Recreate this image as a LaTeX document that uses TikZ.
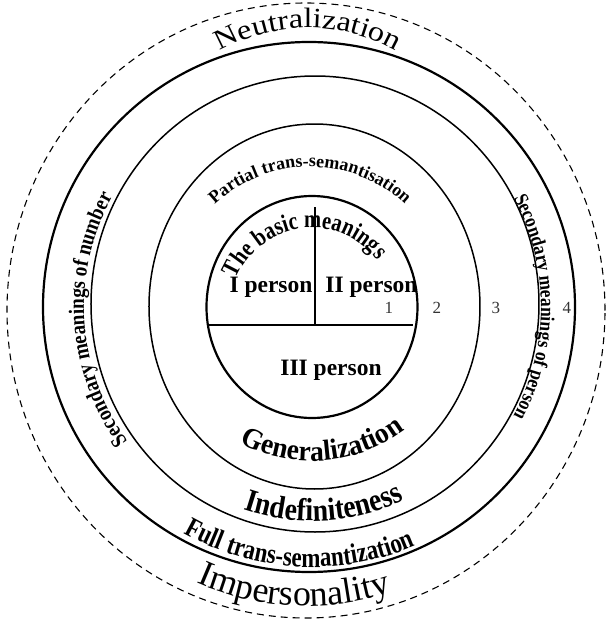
\documentclass[tikz,border=0pt]{standalone}
\usepackage{fontspec}
\setmainfont{Liberation Serif}
% stretched and condensed cuts for the curved labels
\newfontfamily\wideface[FakeStretch=1.15]{Liberation Serif}
\newfontfamily\condA[FakeStretch=0.95]{Liberation Serif}
\newfontfamily\condB[FakeStretch=0.87]{Liberation Serif}
\newfontfamily\condC[FakeStretch=0.82]{Liberation Serif}
\usetikzlibrary{decorations.text}

% fonts of the curved labels
\newcommand\fNeutral{\fontsize{28pt}{28pt}\selectfont\wideface}
\newcommand\fPartial{\fontsize{18pt}{18pt}\selectfont\bfseries}
\newcommand\fBasic{\fontsize{25pt}{25pt}\selectfont\condC\bfseries}
\newcommand\fNumber{\fontsize{22pt}{22pt}\selectfont\condB\bfseries}
\newcommand\fPerson{\fontsize{20pt}{20pt}\selectfont\condB\bfseries}
\newcommand\fGeneral{\fontsize{29pt}{29pt}\selectfont\condA\bfseries}
\newcommand\fIndef{\fontsize{32pt}{32pt}\selectfont\condB\bfseries}
\newcommand\fFull{\fontsize{28pt}{28pt}\selectfont\condC\bfseries}
\newcommand\fImpers{\fontsize{36pt}{36pt}\selectfont}

\tikzset{
  thinring/.style={line width=1.5pt},
  thickring/.style={line width=2.2pt},
  dashring/.style={line width=1.1pt, dash pattern=on 7pt off 5pt},
  vdivider/.style={line width=1.3pt},
  hdivider/.style={line width=1.8pt},
  persontext/.style={font=\fontsize{23.5pt}{24pt}\selectfont\bfseries, inner sep=0pt, anchor=base},
  numtext/.style={font=\fontsize{17pt}{17pt}\selectfont, text=black!80, inner sep=0pt},
  arclabel/.style={decorate, decoration={text along path, text align=center, text={#1}}},
}

\begin{document}
\begin{tikzpicture}[x=1pt, y=1pt]
  \useasboundingbox (-312,-315) rectangle (296,307);

  % rings, from the outside in
  \draw[dashring]  (-6,-3.5) ellipse [x radius=299pt, y radius=307.5pt];
  \draw[thickring] (-3,0)    ellipse [x radius=266pt, y radius=265pt];
  \draw[thinring]  (3,3)     ellipse [x radius=224pt, y radius=228pt];
  \draw[thinring]  (2.5,0.5) ellipse [x radius=165.5pt, y radius=182.5pt];
  \draw[thickring] (0,0)     ellipse [x radius=105.5pt, y radius=111pt];

  % split of the core circle
  \coordinate (vtop) at (3,100);
  \coordinate (vbot) at (3,-18);
  \coordinate (hleft) at (-105,-18);
  \coordinate (hright) at (101,-18);
  \draw[vdivider] (vtop) -- (vbot);
  \draw[hdivider] (hleft) -- (hright);

  % persons
  \node[persontext] (p1) at (-41,15) {I person};
  \node[persontext] (p2) at (59.5,15) {II person};
  \node[persontext] (p3) at (19,-68) {III person};

  % ring numbers
  \node[numtext] (n1) at (77,-1) {1};
  \node[numtext] (n2) at (125,-1) {2};
  \node[numtext] (n3) at (184,-1) {3};
  \node[numtext] (n4) at (255,-1) {4};

  % labels on the upper arcs (clockwise paths)
  \path[arclabel={|\fNeutral|Neutralization}]
    (-4,101) ++(160:178pt) arc[start angle=160, end angle=20, radius=178pt];
  \path[arclabel={|\fPartial|Partial trans-semantisation}]
    (-2,0) ++(160:140pt) arc[start angle=160, end angle=20, radius=140pt];
  \path[arclabel={|\fBasic|The basic meanings}]
    (0,-3) ++(187.5:82pt) arc[start angle=187.5, end angle=7.5, radius=82pt];

  % labels on the side arcs (clockwise paths)
  \path[arclabel={|\fNumber|Secondary meanings of number}]
    (0,0) ++(243.5:228pt) arc[start angle=243.5, end angle=123.5, radius=228pt];
  \path[arclabel={|\fPerson|Secondary meanings of person}]
    (0,0) ++(60:229pt) arc[start angle=60, end angle=-60, radius=229pt];

  % labels on the lower arcs (counter-clockwise paths)
  \path[arclabel={|\fGeneral|Generalization}]
    (0,0) ++(214.5:154pt) arc[start angle=214.5, end angle=334.5, radius=154pt];
  \path[arclabel={|\fIndef|Indefiniteness}]
    (0,0) ++(213.4:214pt) arc[start angle=213.4, end angle=333.4, radius=214pt];
  \path[arclabel={|\fFull|Full trans-semantization}]
    (0,0) ++(207:260pt) arc[start angle=207, end angle=327, radius=260pt];
  \path[arclabel={|\fImpers|Impersonality}]
    (-5,-28) ++(207:271pt) arc[start angle=207, end angle=327, radius=271pt];
\end{tikzpicture}
\end{document}
